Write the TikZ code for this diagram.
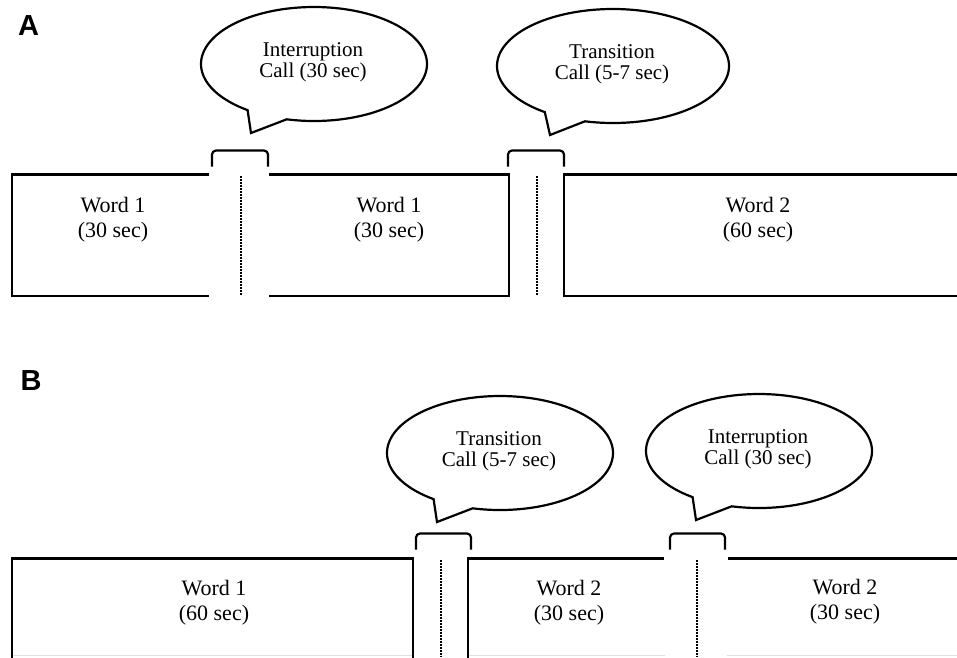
\documentclass[tikz,border=0pt]{standalone}
\usepackage{fontspec}
\setmainfont{Liberation Serif}
\newfontfamily\panelfont{Liberation Sans}
\usetikzlibrary{calc}
\newcommand\speechbubble[5]{% name, cx, cy, rx, text
  \coordinate (#1c) at (#2,#3);
  \draw[bubble] plot[domain=-234:104, samples=140, smooth] ({#2+#4*cos(\x)},{#3+57*sin(\x)}) -- (#2-63,#3+69) -- cycle;
  \node[calltext] (#1) at (#2-1,#3-1.5) {#5};
}
\newcommand\gapbracket[3]{% x1, x2, ytop
  \draw[bracket] (#1,#3+16) -- (#1,#3) -- (#2,#3) -- (#2,#3+16);
}
\begin{document}
\begin{tikzpicture}[x=1pt,y=-1pt,
  boxline/.style={line width=2.2pt},
  dotline/.style={line width=1.7pt, dash pattern=on 1.5pt off 1.5pt},
  bracket/.style={line width=2.2pt, rounded corners=4pt},
  bubble/.style={line width=2.2pt, fill=white},
  faint/.style={line width=1pt, draw=black!12},
  wordtext/.style={align=center, font=\fontsize{22}{25}\selectfont, inner sep=0pt},
  calltext/.style={align=center, font=\fontsize{21}{21.5}\selectfont, inner sep=0pt},
  panel/.style={font=\panelfont\bfseries\fontsize{29}{29}\selectfont, inner sep=0pt}]
\useasboundingbox (0,0) rectangle (957,657);
\fill[white] (0,0) rectangle (957,657);
\begin{scope}
\clip (0,0) rectangle (957,657);

% ---------- Panel A ----------
\node[panel] (labA) at (28.5,25.5) {A};
% box lines
\draw[boxline] (209,174.5) -- (12,174.5) -- (12,296) -- (209,296);
\draw[boxline] (269,174.5) -- (509,174.5) -- (509,296) -- (269,296);
\draw[boxline] (960,174.5) -- (564,174.5) -- (564,296) -- (960,296);
\draw[dotline] (241,176) -- (241,296);
\draw[dotline] (537,176) -- (537,296);
\gapbracket{212}{268}{150.5}
\gapbracket{508}{564}{150.5}
\node[wordtext] (a1) at (113,219.5) {Word 1\\(30 sec)};
\node[wordtext] (a2) at (389,219.5) {Word 1\\(30 sec)};
\node[wordtext] (a3) at (758,219.5) {Word 2\\(60 sec)};
\speechbubble{callA1}{314}{64}{113}{Interruption\\Call (30 sec)}
\speechbubble{callA2}{613}{66}{116}{Transition\\Call (5-7 sec)}

% ---------- Panel B ----------
\node[panel] (labB) at (31,381) {B};
\draw[boxline] (12,670) -- (12,558.5) -- (413,558.5) -- (413,670);
\draw[boxline] (468,670) -- (468,558.5) -- (664,558.5);
\draw[boxline] (728,558.5) -- (960,558.5);
\draw[dotline] (441,560) -- (441,657);
\draw[dotline] (697,560) -- (697,657);
\draw[faint] (13,655.5) -- (412,655.5);
\draw[faint] (469,655.5) -- (665,655.5);
\draw[faint] (727,655.5) -- (957,655.5);
\gapbracket{416}{471}{533.5}
\gapbracket{670}{725}{533.5}
\node[wordtext] (b1) at (214,603) {Word 1\\(60 sec)};
\node[wordtext] (b2) at (569,603) {Word 2\\(30 sec)};
\node[wordtext] (b3) at (845,602) {Word 2\\(30 sec)};
\speechbubble{callB1}{500}{453}{113}{Transition\\Call (5-7 sec)}
\speechbubble{callB2}{759}{451}{113}{Interruption\\Call (30 sec)}
\end{scope}
\end{tikzpicture}
\end{document}
